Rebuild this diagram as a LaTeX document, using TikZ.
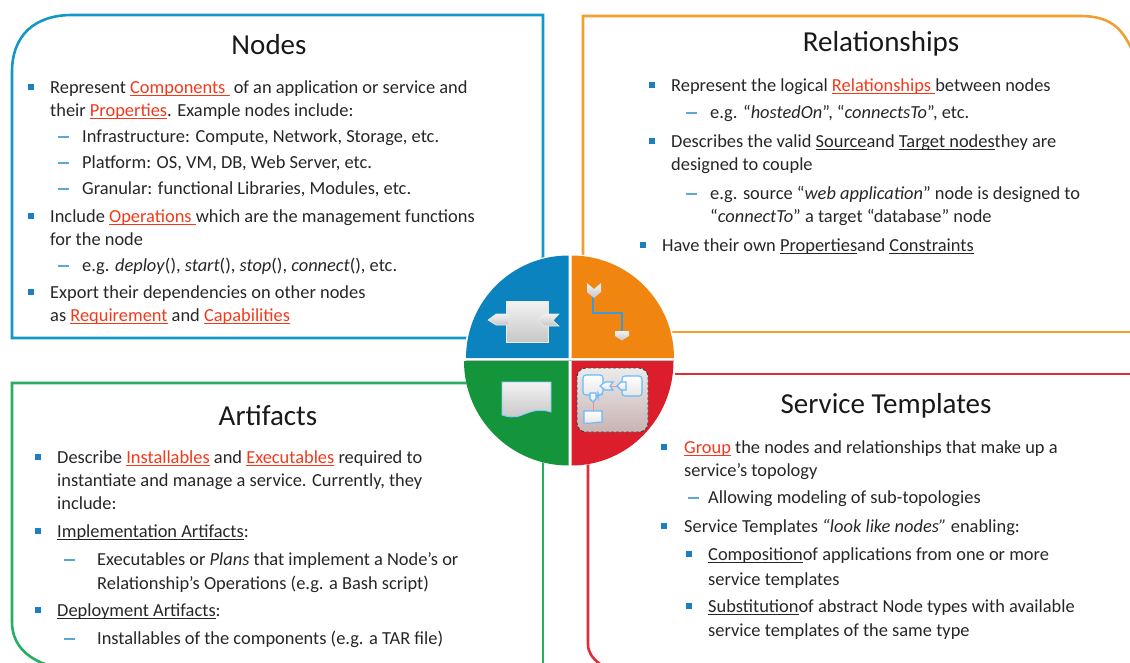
\documentclass[tikz,border=0pt]{standalone}
\usepackage{fontspec}
\setmainfont{Carlito}
\definecolor{cblue}{HTML}{1298C8}
\definecolor{corange}{HTML}{F0A030}
\definecolor{cgreen}{HTML}{27AE5E}
\definecolor{cred}{HTML}{DF2E38}
\definecolor{qblue}{HTML}{0A83BE}
\definecolor{qorange}{HTML}{F0850F}
\definecolor{qgreen}{HTML}{14953C}
\definecolor{qred}{HTML}{DC1E2C}
\definecolor{bul}{HTML}{1B7FC1}
\definecolor{dsh}{HTML}{5AA7D8}
\definecolor{rtxt}{HTML}{F03A1C}
\definecolor{btxt}{HTML}{262626}
\newcommand\ulk[1]{\setbox0\hbox{#1}\rlap{\rule[-2.6pt]{\wd0}{0.9pt}}\box0}
\newcommand\rdu[1]{{\color{rtxt}\ulk{#1}}}
\tikzset{
  tx/.style={anchor=base west,inner sep=0pt,text=btxt,font=\fontsize{18.4}{22}\selectfont},
  ttl/.style={anchor=center,inner sep=0pt,text=black!90,font=\fontsize{29}{34}\selectfont},
  frame/.style={line width=2.6pt,line cap=butt},
  bulb/.style={fill=bul,draw=none,minimum size=6pt,inner sep=0pt,rectangle},
  dashk/.style={draw=dsh,line width=1.5pt},
  icon/.style={top color=white!95!black,bottom color=black!22},
  cyanl/.style={draw=cyan!70!blue!80,line width=2.6pt},
  smallic/.style={top color=white,bottom color=black!10,draw=blue!45!cyan!60,line width=1.1pt},
}
\begin{document}
\begin{tikzpicture}[x=1pt,y=-1pt]
\useasboundingbox (0,0) rectangle (1130,662);
\clip (0,0) rectangle (1130,662);
% frames
\draw[frame,cblue] (480,338) -- (12,338) -- (12,72) .. controls (12,35) and (35,15) .. (72,15) -- (543,15) -- (543,290);
\draw[frame,corange] (583,270) -- (583,16) -- (1080,16) .. controls (1110,16) and (1122,28) .. (1132,50);
\draw[frame,corange] (660,332) -- (1132,332);
\draw[frame,cgreen] (480,383) -- (12,383) -- (12,622) .. controls (12,645) and (28,658) .. (45,664);
\draw[frame,cgreen] (543,450) -- (543,664);
\draw[frame,cred] (660,374) -- (1132,374);
\draw[frame,cred] (588,450) -- (588,644) .. controls (588,652) and (592,658) .. (600,664);
% disc
\fill[white] (570,360) circle (106);
\fill[black!25] (466,359.5) rectangle (674,360.5);
\fill[qblue] (568.5,358) -- (466,358) arc[start angle=180,end angle=90,x radius=102.5,y radius=-102.5] -- cycle;
\fill[qorange] (571.5,358) -- (571.5,255.5) arc[start angle=90,end angle=0,x radius=102.5,y radius=-102.5] -- cycle;
\fill[qgreen] (568.5,361) -- (568.5,465.5) arc[start angle=90,end angle=180,x radius=104.5,y radius=104.5] -- cycle;
\fill[qred] (571.5,361) -- (673.5,361) arc[start angle=0,end angle=90,x radius=102,y radius=104.5] -- cycle;
% node icon
\path[icon,draw=black!8,line width=.6pt] (506,301) rectangle (548,342);
\path[icon,draw=black!8,line width=.6pt] (488,320) -- (496,314) -- (509,314) -- (509,325) -- (496,325) -- cycle;
\path[icon,draw=black!8,line width=.6pt] (537,320) -- (544,314) -- (559,314) -- (553,320.5) -- (559,326) -- (544,326) -- cycle;
% relationship icon
\draw[cyanl] (593,296) -- (593,313) -- (622,313) -- (622,332);
\path[icon] (587,283) -- (594,289) -- (601,283) -- (601,292) -- (594,298) -- (587,292) -- cycle;
\path[icon] (615,331) -- (629,331) -- (629,336) -- (622,340.5) -- (615,336) -- cycle;
% artifact icon
\path[icon,draw=blue!40!cyan!50,line width=.9pt] (502,382) -- (551,382) -- (551,412) .. controls (538,408) and (530,412) .. (522,415) .. controls (515,418) and (508,417) .. (502,415) -- cycle;
% service template icon
\path[top color=white!92!black,bottom color=red!30!black!30,draw=black!75,densely dashed,line width=.9pt,rounded corners=9pt] (577,368) rectangle (648,432);
\draw[red!45,line width=.8pt] (610,386) -- (620,386);
\draw[red!45,line width=.8pt] (593,400) -- (593,411);
\path[smallic,rounded corners=3pt] (583,375) -- (603,375) -- (603,394) -- (598,396) -- (598,395) -- (583,395) -- cycle;
\path[smallic,rounded corners=3pt] (622,376) rectangle (642,396);
\path[smallic] (600,386) -- (605,382) -- (613,382) -- (610,386) -- (613,390) -- (605,390) -- cycle;
\path[smallic] (617,386) -- (621,382) -- (626,382) -- (626,390) -- (621,390) -- cycle;
\path[smallic] (590,393) -- (596,393) -- (596,399) -- (593,402) -- (590,399) -- cycle;
\path[smallic] (584,411) -- (602,411) -- (602,422) .. controls (596,422) and (590,424) .. (584,423) -- cycle;
% Nodes
\node[ttl] (t1) at (269,45) {Nodes};
\node[bulb] (b1a) at (30.5,87) {};
\node[tx] (n1) at (50,93) {Represent \rdu{Components } of an application or service and};
\node[tx] (n2) at (50,116) {their \rdu{Properties}. Example nodes include:};
\node[tx] (n3) at (82,142) {Infrastructure: Compute, Network, Storage, etc.};
\node[tx] (n4) at (82,168) {Platform: OS,  VM, DB, Web Server, etc.};
\node[tx] (n5) at (82,194) {Granular: functional Libraries, Modules, etc.};
\node[bulb] (b1b) at (30.5,216) {};
\node[tx] (n6) at (50,222) {Include \rdu{Operations }which are the management functions};
\node[tx] (n7) at (50,245) {for the node};
\node[tx] (n8) at (82,271) {e.g. \textit{deploy}(), \textit{start}(), \textit{stop}(), \textit{connect}(), etc.};
\node[bulb] (b1c) at (30.5,292) {};
\node[tx] (n9) at (50,298) {Export their dependencies on other nodes};
\node[tx] (n10) at (50,321) {as \rdu{Requirement} and \rdu{Capabilities}};
\draw[dashk] (58,137) -- (69,137);
\draw[dashk] (58,163) -- (69,163);
\draw[dashk] (58,189) -- (69,189);
\draw[dashk] (58,266) -- (69,266);
% Relationships
\node[ttl] (t2) at (881,44) {Relationships};
\node[bulb] (b2a) at (652,85) {};
\node[tx] (r1) at (671,91) {Represent the logical \rdu{Relationships }between nodes};
\node[tx] (r2) at (710,118) {e.g. “\textit{hostedOn}”, “\textit{connectsTo}”, etc.};
\node[bulb] (b2b) at (652,141) {};
\node[tx] (r3) at (671,147) {Describes the valid \ulk{Source} and \ulk{Target nodes} they are};
\node[tx] (r4) at (671,170) {designed to couple};
\node[tx] (r5) at (710,199) {e.g. source “\textit{web application}” node is designed to};
\node[tx] (r6) at (710,222) {“\textit{connectTo}” a target “database” node};
\node[bulb] (b2c) at (643,245) {};
\node[tx] (r7) at (662,251) {Have their own \ulk{Properties} and \ulk{Constraints}};
\draw[dashk] (686,113) -- (697,113);
\draw[dashk] (686,194) -- (697,194);
% Artifacts
\node[ttl] (t3) at (268,416) {Artifacts};
\node[bulb] (b3a) at (38,457) {};
\node[tx] (a1) at (57,463) {Describe \rdu{Installables} and \rdu{Executables} required to};
\node[tx] (a2) at (57,486) {instantiate and manage a service.  Currently, they};
\node[tx] (a3) at (57,509) {include:};
\node[bulb] (b3b) at (38,531) {};
\node[tx] (a4) at (57,537) {\ulk{Implementation Artifacts}:};
\node[tx] (a5) at (97,565) {Executables or \textit{Plans} that implement a Node’s or};
\node[tx] (a6) at (97,589) {Relationship’s Operations (e.g. a Bash script)};
\node[bulb] (b3c) at (38,610) {};
\node[tx] (a7) at (57,616) {\ulk{Deployment Artifacts}:};
\node[tx] (a8) at (97,644) {Installables of the components (e.g. a TAR file)};
\draw[dashk] (64,560) -- (75,560);
\draw[dashk] (64,639) -- (75,639);
% Service Templates
\node[ttl] (t4) at (886,406) {Service Templates};
\node[bulb] (b4a) at (664,447) {};
\node[tx] (s1) at (684,453) {\rdu{Group} the nodes and relationships that make up a};
\node[tx] (s2) at (684,476) {service’s topology};
\node[tx] (s3) at (708,503) {Allowing modeling of sub-topologies};
\node[bulb] (b4b) at (664,526) {};
\node[tx] (s4) at (684,532) {Service Templates \textit{“look like nodes”} enabling:};
\node[bulb] (b4c) at (689,554) {};
\node[tx] (s5) at (708,560) {\ulk{Composition} of applications from one or more};
\node[tx] (s6) at (708,585) {service templates};
\node[bulb] (b4d) at (689,606) {};
\node[tx] (s7) at (708,612) {\ulk{Substitution} of abstract Node types with available};
\node[tx] (s8) at (708,636) {service templates of the same type};
\draw[dashk] (688,498) -- (699,498);
\end{tikzpicture}
\end{document}
